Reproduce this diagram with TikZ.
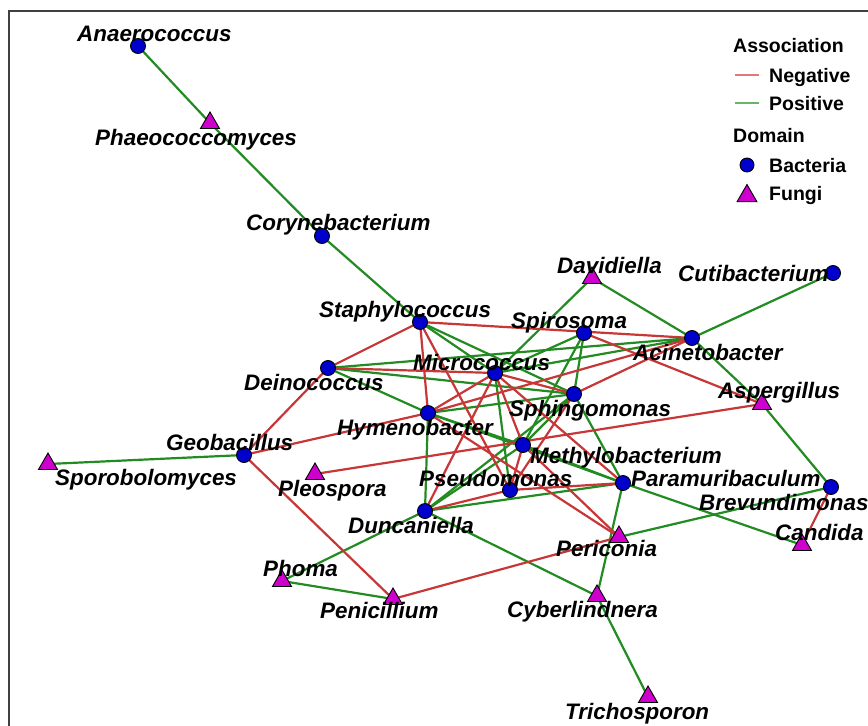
\documentclass[tikz,border=0pt]{standalone}
\usepackage{fontspec}
\setmainfont{Liberation Sans}
\usetikzlibrary{shapes.geometric}
\pgfdeclarelayer{bg}
\pgfdeclarelayer{edges}
\pgfsetlayers{bg,edges,main}
\definecolor{negc}{RGB}{200,55,55}
\definecolor{posc}{RGB}{34,139,34}
\definecolor{negl}{RGB}{228,120,120}
\definecolor{posl}{RGB}{105,180,105}
\definecolor{bact}{RGB}{0,0,205}
\definecolor{fung}{RGB}{205,0,205}
\tikzset{
 bac/.style={circle,draw=black,line width=0.9pt,fill=bact,minimum size=15pt,inner sep=0pt},
 fun/.style={regular polygon,regular polygon sides=3,draw=black,line width=0.9pt,fill=fung,minimum size=22pt,inner sep=0pt},
 lab/.style={anchor=base west,inner sep=0pt,font=\fontsize{22.4}{26}\selectfont\bfseries\itshape},
 negedge/.style={draw=negc,line width=2.2pt},
 posedge/.style={draw=posc,line width=2.2pt},
 legt/.style={anchor=base west,inner sep=0pt,font=\fontsize{19.5}{22}\selectfont\bfseries},
}
\begin{document}
\begin{tikzpicture}[x=1pt,y=-1pt]
\useasboundingbox (0,0) rectangle (868,726);
\begin{pgfonlayer}{bg}
\fill[white] (0,0) rectangle (868,726);
\draw[line width=1.2pt,black!75] (9,726) -- (9,11) -- (868,11);
\end{pgfonlayer}
% bacteria
\node[bac] (Ana) at (138,46) {};
\node[bac] (Cor) at (322,236) {};
\node[bac] (Cut) at (833,273) {};
\node[bac] (Sta) at (420,322) {};
\node[bac] (Spi) at (584,333) {};
\node[bac] (Aci) at (692,338) {};
\node[bac] (Dei) at (328,368) {};
\node[bac] (Mic) at (495,373) {};
\node[bac] (Sph) at (574,394) {};
\node[bac] (Hym) at (428,413) {};
\node[bac] (Met) at (523,445) {};
\node[bac] (Geo) at (244,455) {};
\node[bac] (Pse) at (510,490) {};
\node[bac] (Par) at (623,483) {};
\node[bac] (Bre) at (831,487) {};
\node[bac] (Dun) at (425,511) {};
% fungi
\node[fun] (Pha) at (210,123) {};
\node[fun] (Dav) at (592,278) {};
\node[fun] (Asp) at (762,404) {};
\node[fun] (Spo) at (48,464) {};
\node[fun] (Ple) at (315,474) {};
\node[fun] (Per) at (619,537) {};
\node[fun] (Can) at (802,545) {};
\node[fun] (Pho) at (282,581) {};
\node[fun] (Pen) at (393,599) {};
\node[fun] (Cyb) at (597,596) {};
\node[fun] (Tri) at (648,697) {};
% edges
\begin{pgfonlayer}{edges}
\foreach \a/\b in {Ana/Pha,Pha/Cor,Cor/Sta,Dav/Mic,Dav/Aci,Cut/Aci,Aci/Asp,Asp/Bre,Bre/Per,Par/Can,Par/Cyb,Cyb/Tri,Dun/Cyb,Dun/Pho,Pho/Pen,Geo/Spo,Dei/Hym,Dei/Sph,Dei/Aci,Hym/Dun,Hym/Met,Met/Par,Hym/Par,Dun/Par,Dun/Met,Dun/Sph,Pse/Mic,Sph/Par,Sph/Met,Spi/Sph,Spi/Met,Spi/Mic,Aci/Mic,Sta/Mic,Sta/Sph,Hym/Sph}
  \draw[posedge] (\a.center) -- (\b.center);
\foreach \a/\b in {Sta/Aci,Sta/Dei,Sta/Hym,Sta/Pse,Dei/Mic,Geo/Dei,Geo/Hym,Geo/Pen,Ple/Asp,Spi/Asp,Bre/Can,Pen/Per,Pse/Par,Dun/Pse,Dun/Mic,Met/Per,Hym/Per,Aci/Sph,Aci/Hym,Mic/Sph,Mic/Par,Pse/Met,Pse/Sph,Hym/Mic,Mic/Met}
  \draw[negedge] (\a.center) -- (\b.center);
\end{pgfonlayer}
% labels
\node[lab] (lAna) at (77,41) {Anaerococcus};
\node[lab] (lPha) at (95,145) {Phaeococcomyces};
\node[lab] (lCor) at (246,230) {Corynebacterium};
\node[lab] (lDav) at (557,273) {Davidiella};
\node[lab] (lCut) at (678,281) {Cutibacterium};
\node[lab] (lSta) at (319,317) {Staphylococcus};
\node[lab] (lSpi) at (511,328) {Spirosoma};
\node[lab] (lAci) at (633,360) {Acinetobacter};
\node[lab] (lDei) at (244,390) {Deinococcus};
\node[lab] (lMic) at (413,370) {Micrococcus};
\node[lab] (lSph) at (509,416) {Sphingomonas};
\node[lab] (lAsp) at (718,398) {Aspergillus};
\node[lab] (lHym) at (337,435) {Hymenobacter};
\node[lab] (lMet) at (530,463) {Methylobacterium};
\node[lab] (lGeo) at (166,450) {Geobacillus};
\node[lab] (lSpo) at (55,485) {Sporobolomyces};
\node[lab] (lPle) at (278,496) {Pleospora};
\node[lab] (lPse) at (419,486) {Pseudomonas};
\node[lab] (lPar) at (631,486) {Paramuribaculum};
\node[lab] (lBre) at (699,510) {Brevundimonas};
\node[lab] (lDun) at (348,533) {Duncaniella};
\node[lab] (lPer) at (556,556) {Periconia};
\node[lab] (lCan) at (775,540) {Candida};
\node[lab] (lPho) at (263,576) {Phoma};
\node[lab] (lPen) at (320,618) {Penicillium};
\node[lab] (lCyb) at (507,617) {Cyberlindnera};
\node[lab] (lTri) at (565,719) {Trichosporon};
% legend
\node[legt] (legA) at (733,52) {Association};
\coordinate (n1) at (735,75); \coordinate (n2) at (759,75);
\draw[negl,line width=2pt] (n1) -- (n2);
\node[legt] (legN) at (769,82) {Negative};
\coordinate (p1) at (735,103); \coordinate (p2) at (759,103);
\draw[posl,line width=2pt] (p1) -- (p2);
\node[legt] (legP) at (769,110) {Positive};
\node[legt] (legD) at (733,142) {Domain};
\node[bac,minimum size=14pt] (legB) at (747,165) {};
\node[legt] (legBt) at (769,172) {Bacteria};
\node[fun,minimum size=23pt] (legF) at (747,196) {};
\node[legt] (legFt) at (769,200) {Fungi};
\end{tikzpicture}
\end{document}
